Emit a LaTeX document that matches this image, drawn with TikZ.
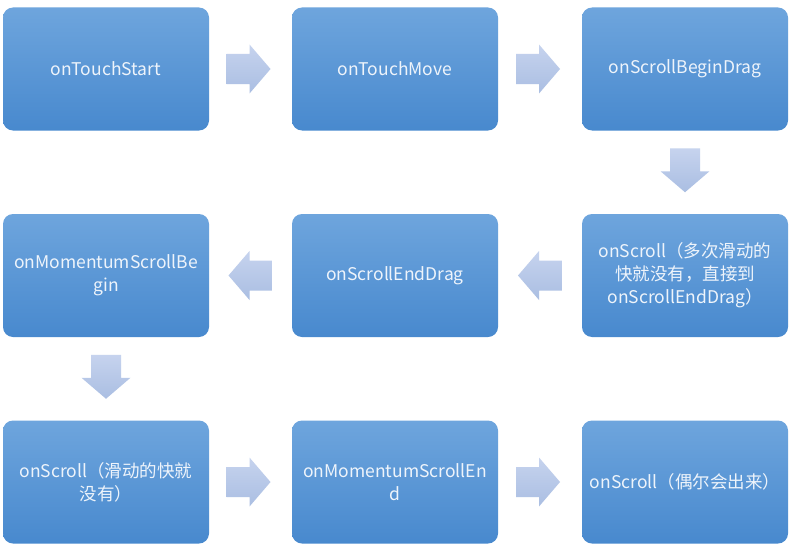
\documentclass[tikz,border=0pt]{standalone}
\usepackage{fontspec}
\setmainfont{Noto Sans CJK SC}
\usetikzlibrary{calc}
\definecolor{boxtop}{RGB}{110,165,221}
\definecolor{boxbot}{RGB}{72,137,206}
\definecolor{arrtop}{RGB}{198,211,238}
\definecolor{arrbot}{RGB}{170,190,226}
\definecolor{txt}{RGB}{238,244,251}
\tikzset{
  box/.style={rectangle, rounded corners=10pt, minimum width=206pt, minimum height=123pt,
    top color=boxtop, bottom color=boxbot, draw=none, text=txt, align=center,
    font=\fontsize{17.5}{23}\selectfont, inner sep=0pt},
  arrowfill/.style={top color=arrtop, bottom color=arrbot, draw=none},
  blockarrow/.pic={\path[arrowfill] (-22,-15) -- (1,-15) -- (1,-24.5) -- (22,0) -- (1,24.5) -- (1,15) -- (-22,15) -- cycle;}
}
\begin{document}
\begin{tikzpicture}[x=1pt,y=-1pt]
\useasboundingbox[fill=white] (0,0) rectangle (800,551);
\node[box] (n1) at (106,69) {onTouchStart};
\node[box] (n2) at (395,69) {onTouchMove};
\node[box] (n3) at (685,69) {onScrollBeginDrag};
\node[box] (n6) at (685,275.5) {onScroll（多次滑动的\\快就没有，直接到\\onScrollEndDrag）};
\node[box] (n5) at (395,275.5) {onScrollEndDrag};
\node[box] (n4) at (106,275.5) {onMomentumScrollBe\\gin};
\node[box] (n7) at (106,482) {onScroll（滑动的快就\\没有）};
\node[box] (n8) at (395,482) {onMomentumScrollEn\\d};
\node[box] (n9) at (685,482) {onScroll（偶尔会出来）};
\coordinate (a12) at ($(n1.east)!0.5!(n2.west)$);
\coordinate (a23) at ($(n2.east)!0.5!(n3.west)$);
\coordinate (a36) at ($(n3.south)!0.5!(n6.north)$);
\coordinate (a65) at ($(n6.west)!0.5!(n5.east)$);
\coordinate (a54) at ($(n5.west)!0.5!(n4.east)$);
\coordinate (a47) at ($(n4.south)!0.5!(n7.north)$);
\coordinate (a78) at ($(n7.east)!0.5!(n8.west)$);
\coordinate (a89) at ($(n8.east)!0.5!(n9.west)$);
\pic at ($(a12)+(-2,0)$) {blockarrow};
\pic at ($(a23)+(-2,0)$) {blockarrow};
\pic[rotate=-90] at ($(a36)+(0,-2)$) {blockarrow};
\pic[rotate=180] at (a65) {blockarrow};
\pic[rotate=180] at (a54) {blockarrow};
\pic[rotate=-90] at ($(a47)+(0,-2)$) {blockarrow};
\pic at ($(a78)+(-2,0)$) {blockarrow};
\pic at ($(a89)+(-2,0)$) {blockarrow};
\end{tikzpicture}
\end{document}
